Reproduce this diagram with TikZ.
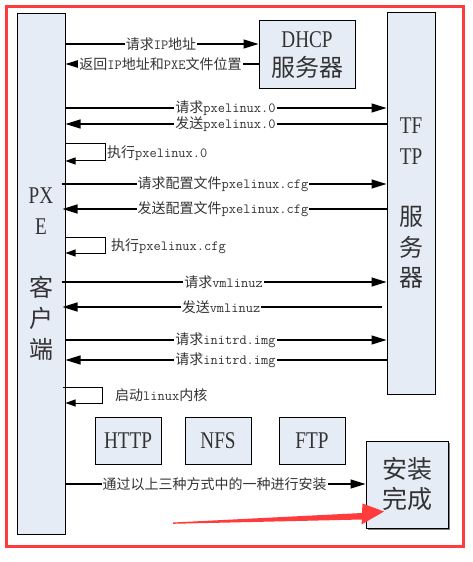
\documentclass[tikz,border=0pt]{standalone}
\usepackage{fontspec}
\setmainfont{Liberation Serif}
\newfontfamily\cjk{Noto Sans CJK SC}
\newfontfamily\bigser[FakeStretch=0.8]{Liberation Serif}
\usetikzlibrary{arrows.meta}
\definecolor{boxfill}{HTML}{E6ECF6}
\definecolor{redline}{HTML}{FF3B3B}
\newcommand\myzh[1]{{\cjk #1}}
\newcommand\myen[1]{{\ttfamily #1}}
\begin{document}
\begin{tikzpicture}[x=1bp,y=-1bp,
  box/.style={draw=black, line width=1bp, fill=boxfill, inner sep=0pt},
  msg/.style={draw=black, line width=1.2bp, -{Triangle[length=15bp,width=9bp]}},
  selfmsg/.style={draw=black, line width=1bp, -{Triangle[length=10bp,width=7bp]}},
  lbl/.style={fill=white, inner sep=1bp, text=black!80, font=\fontsize{14bp}{16bp}\selectfont},
  big/.style={text=black!80, align=center, font=\bigser\fontsize{24bp}{31bp}\selectfont}
]
\useasboundingbox (0,0) rectangle (473,562);
\draw[redline, line width=3.2bp] (6.5,6.5) rectangle (463.5,546.5);

% shadow of the final box
\fill[black!50] (367.5,442.5) rectangle (449.5,529.5);

% boxes
\node[box, big, minimum width=48bp, minimum height=520bp] (client) at (41,274)
  {PX\\E\\[31bp]\myzh{客}\\\myzh{户}\\\myzh{端}};
\node[box, big, font=\bigser\fontsize{24bp}{29bp}\selectfont, minimum width=96bp, minimum height=68bp] (dhcp) at (307,55)
  {DHCP\\\myzh{服务器}};
\node[box, big, font=\bigser\fontsize{24bp}{30.6bp}\selectfont, minimum width=48bp, minimum height=381bp] (tftp) at (411,203.5)
  {TF\\TP\\[30.6bp]\myzh{服}\\\myzh{务}\\\myzh{器}};
\node[box, big, minimum width=66bp, minimum height=47bp] (http) at (128,440.5) {HTTP};
\node[box, big, minimum width=66bp, minimum height=47bp] (nfs) at (218,440.5) {NFS};
\node[box, big, minimum width=66bp, minimum height=47bp] (ftp) at (312,440.5) {FTP};
\node[box, big, font=\bigser\fontsize{25bp}{30bp}\selectfont, minimum width=82bp, minimum height=87bp] (done) at (407,484.5)
  {\myzh{安装}\\\myzh{完成}};

% DHCP messages
\draw[msg] (client.east |- 0,44) -- (dhcp.west |- 0,44);
\node[lbl] (l1) at (161,44) {\myzh{请求}\myen{IP}\myzh{地址}};
\draw[msg] (dhcp.west |- 0,64) -- (client.east |- 0,64);
\node[lbl] (l2) at (160.5,64) {\myzh{返回}\myen{IP}\myzh{地址和}\myen{PXE}\myzh{文件位置}};

% TFTP messages
\draw[msg] (client.east |- 0,108) -- (tftp.west |- 0,108);
\node[lbl] (l3) at (225.5,108) {\myzh{请求}\myen{pxelinux.0}};
\draw[msg] (tftp.west |- 0,124) -- (client.east |- 0,124);
\node[lbl] (l4) at (225.5,124) {\myzh{发送}\myen{pxelinux.0}};

\draw[selfmsg] (client.east |- 0,144) -| (105,161) -- (client.east |- 0,161);
\node[lbl, anchor=west, fill=none] (l5) at (106,153) {\myzh{执行}\myen{pxelinux.0}};

\draw[msg, shorten <=-4bp] (client.east |- 0,184) -- (tftp.west |- 0,184);
\node[lbl] (l6) at (223,184) {\myzh{请求配置文件}\myen{pxelinux.cfg}};
\draw[msg, shorten >=-3bp] (tftp.west |- 0,209) -- (client.east |- 0,209);
\node[lbl] (l7) at (223,209) {\myzh{发送配置文件}\myen{pxelinux.cfg}};

\draw[selfmsg] (client.east |- 0,237) -| (105,253) -- (client.east |- 0,253);
\node[lbl, anchor=west, fill=none] (l8) at (110,246) {\myzh{执行}\myen{pxelinux.cfg}};

\draw[msg, shorten <=-4bp] (client.east |- 0,282) -- (tftp.west |- 0,282);
\node[lbl] (l9) at (223.5,282) {\myzh{请求}\myen{vmlinuz}};
\draw[msg, shorten <=5bp, shorten >=-3bp] (tftp.west |- 0,307) -- (client.east |- 0,307);
\node[lbl] (l10) at (221,307) {\myzh{发送}\myen{vmlinuz}};

\draw[msg] (client.east |- 0,340) -- (tftp.west |- 0,340);
\node[lbl] (l11) at (225.5,340) {\myzh{请求}\myen{initrd.img}};
\draw[msg] (tftp.west |- 0,360) -- (client.east |- 0,360);
\node[lbl] (l12) at (225.5,360) {\myzh{请求}\myen{initrd.img}};

\draw[selfmsg, shorten <=-3bp] (client.east |- 0,387) -| (102,403) -- (client.east |- 0,403);
\node[lbl, anchor=west, fill=none] (l13) at (114,395) {\myzh{启动}\myen{linux}\myzh{内核}};

% install
\draw[msg] (client.east |- 0,484) -- (done.west |- 0,484);
\node[lbl] (l14) at (214.5,484) {\myzh{通过以上三种方式中的一种进行安装}};

% red highlight arrow
\fill[redline] (173,522.5) -- (362,513) -- (362.5,503.5) -- (384,511.5) -- (361.5,524.5) -- (362,519.5) -- (173,523.8) -- cycle;
\end{tikzpicture}
\end{document}
